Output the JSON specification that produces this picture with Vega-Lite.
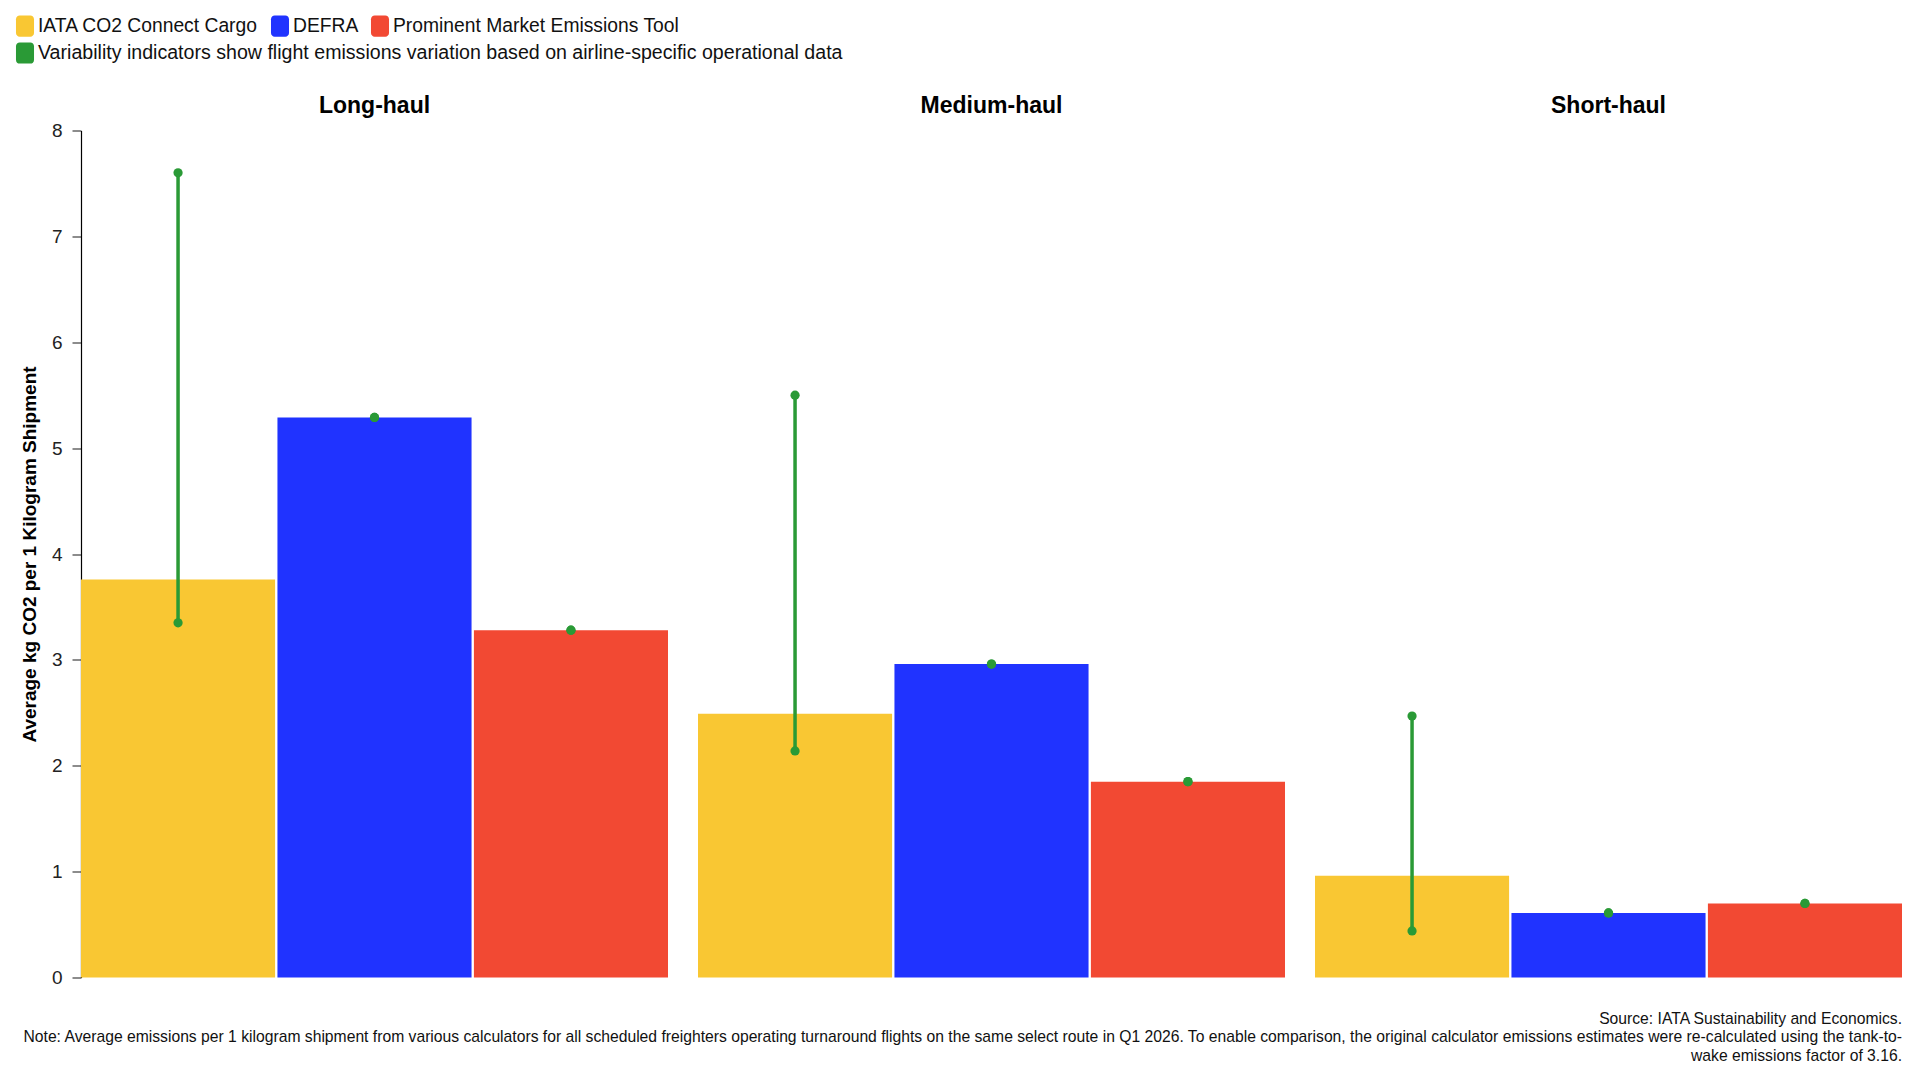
{
  "$schema": "https://vega.github.io/schema/vega-lite/v6.json",
  "background": "white",
  "padding": {"left": 14, "top": 14.5, "right": 16, "bottom": 10},
  "autosize": {"type": "pad"},
  "title": {
    "text": [
      "Source: IATA Sustainability and Economics.",
      "Note: Average emissions per 1 kilogram shipment from various calculators for all scheduled freighters operating turnaround flights on the same select route in Q1 2026. To enable comparison, the original calculator emissions estimates were re-calculated using the tank-to-",
      "wake emissions factor of 3.16."
    ],
    "orient": "bottom",
    "anchor": "end",
    "align": "right",
    "font": "Liberation Sans",
    "fontSize": 15.7,
    "fontWeight": "normal",
    "color": "#111111",
    "lineHeight": 18.5,
    "offset": 24
  },
  "data": {
    "values": [
      {"haul": "Long-haul", "calculator": "IATA CO2 Connect Cargo", "value": 3.76, "min": 3.35, "max": 7.6},
      {"haul": "Long-haul", "calculator": "DEFRA", "value": 5.29, "min": 5.29, "max": 5.29},
      {"haul": "Long-haul", "calculator": "Prominent Market Emissions Tool", "value": 3.28, "min": 3.28, "max": 3.28},
      {"haul": "Medium-haul", "calculator": "IATA CO2 Connect Cargo", "value": 2.49, "min": 2.14, "max": 5.5},
      {"haul": "Medium-haul", "calculator": "DEFRA", "value": 2.96, "min": 2.96, "max": 2.96},
      {"haul": "Medium-haul", "calculator": "Prominent Market Emissions Tool", "value": 1.85, "min": 1.85, "max": 1.85},
      {"haul": "Short-haul", "calculator": "IATA CO2 Connect Cargo", "value": 0.96, "min": 0.44, "max": 2.47},
      {"haul": "Short-haul", "calculator": "DEFRA", "value": 0.61, "min": 0.61, "max": 0.61},
      {"haul": "Short-haul", "calculator": "Prominent Market Emissions Tool", "value": 0.7, "min": 0.7, "max": 0.7}
    ]
  },
  "facet": {
    "column": {
      "field": "haul",
      "type": "nominal",
      "sort": ["Long-haul", "Medium-haul", "Short-haul"],
      "header": {
        "title": null,
        "labelFont": "Liberation Sans",
        "labelFontSize": 23,
        "labelFontWeight": "bold",
        "labelColor": "#000000",
        "labelPadding": 13
      }
    }
  },
  "spacing": 30,
  "spec": {
    "width": 587,
    "height": 847,
    "layer": [
      {
        "mark": {"type": "bar"},
        "encoding": {
          "x": {
            "field": "calculator",
            "type": "nominal",
            "sort": ["IATA CO2 Connect Cargo", "DEFRA", "Prominent Market Emissions Tool"],
            "axis": null,
            "scale": {"paddingInner": 0.012, "paddingOuter": 0}
          },
          "y": {
            "field": "value",
            "type": "quantitative",
            "title": "Average kg CO2 per 1 Kilogram Shipment",
            "scale": {"domain": [0, 8], "nice": false},
            "axis": {
              "values": [0, 1, 2, 3, 4, 5, 6, 7, 8],
              "format": "d",
              "grid": false,
              "domainColor": "#000000",
              "domainWidth": 1.2,
              "tickColor": "#666666",
              "tickSize": 9,
              "tickWidth": 1.5,
              "labelFont": "Liberation Sans",
              "labelFontSize": 19,
              "labelColor": "#222222",
              "labelPadding": 10,
              "titleFont": "Liberation Sans",
              "titleFontSize": 19,
              "titleFontWeight": "bold",
              "titleColor": "#000000",
              "titlePadding": 12
            }
          },
          "color": {
            "field": "calculator",
            "type": "nominal",
            "scale": {
              "domain": ["IATA CO2 Connect Cargo", "DEFRA", "Prominent Market Emissions Tool"],
              "range": ["#F9C733", "#2033FF", "#F24933"]
            },
            "legend": {
              "title": null,
              "orient": "none",
              "legendX": -67,
              "legendY": -115.5,
              "direction": "horizontal",
              "symbolType": "M-0.5,-1H0.5A0.35,0.35,0,0,1,0.85,-0.65V0.65A0.35,0.35,0,0,1,0.5,1H-0.5A0.35,0.35,0,0,1,-0.85,0.65V-0.65A0.35,0.35,0,0,1,-0.5,-1Z",
              "symbolSize": 450,
              "symbolStrokeWidth": 0,
              "symbolOpacity": 1,
              "labelFont": "Liberation Sans",
              "labelFontSize": 19.3,
              "labelColor": "#111111",
              "labelLimit": 1500,
              "labelOffset": 2,
              "columnPadding": 10
            }
          }
        }
      },
      {
        "mark": {"type": "rule", "color": "#2A9A36", "strokeWidth": 3.5},
        "encoding": {
          "x": {"field": "calculator", "type": "nominal", "sort": ["IATA CO2 Connect Cargo", "DEFRA", "Prominent Market Emissions Tool"]},
          "y": {"field": "min", "type": "quantitative", "title": "Average kg CO2 per 1 Kilogram Shipment"},
          "y2": {"field": "max"}
        }
      },
      {
        "mark": {"type": "point", "filled": true, "opacity": 1, "size": 85},
        "encoding": {
          "x": {"field": "calculator", "type": "nominal", "sort": ["IATA CO2 Connect Cargo", "DEFRA", "Prominent Market Emissions Tool"]},
          "y": {"field": "min", "type": "quantitative", "title": "Average kg CO2 per 1 Kilogram Shipment"},
          "fill": {
            "datum": "Variability indicators show flight emissions variation based on airline-specific operational data",
            "type": "nominal",
            "scale": {"range": ["#2A9A36"]},
            "legend": {
              "title": null,
              "orient": "none",
              "legendX": -67,
              "legendY": -88.5,
              "direction": "horizontal",
              "symbolType": "M-0.5,-1H0.5A0.35,0.35,0,0,1,0.85,-0.65V0.65A0.35,0.35,0,0,1,0.5,1H-0.5A0.35,0.35,0,0,1,-0.85,0.65V-0.65A0.35,0.35,0,0,1,-0.5,-1Z",
              "symbolSize": 450,
              "symbolStrokeWidth": 0,
              "symbolOpacity": 1,
              "labelFont": "Liberation Sans",
              "labelFontSize": 19.6,
              "labelColor": "#111111",
              "labelLimit": 1500,
              "labelOffset": 2
            }
          }
        }
      },
      {
        "mark": {"type": "point", "filled": true, "opacity": 1, "size": 85},
        "encoding": {
          "x": {"field": "calculator", "type": "nominal", "sort": ["IATA CO2 Connect Cargo", "DEFRA", "Prominent Market Emissions Tool"]},
          "y": {"field": "max", "type": "quantitative", "title": "Average kg CO2 per 1 Kilogram Shipment"},
          "fill": {
            "datum": "Variability indicators show flight emissions variation based on airline-specific operational data",
            "type": "nominal"
          }
        }
      }
    ]
  },
  "config": {
    "view": {"stroke": null},
    "font": "Liberation Sans"
  }
}
